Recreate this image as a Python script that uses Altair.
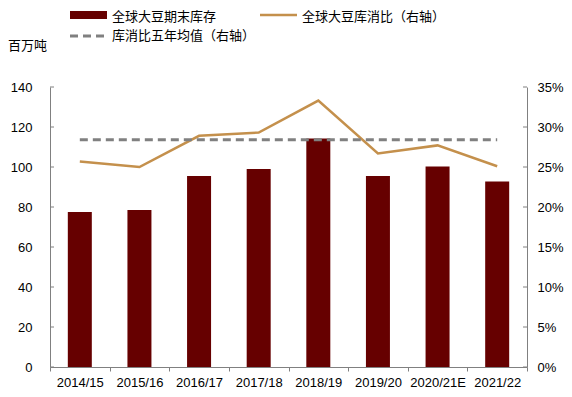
import altair as alt
import pandas as pd

years = ["2014/15", "2015/16", "2016/17", "2017/18", "2018/19", "2019/20", "2020/21E", "2021/22"]
stocks = [77.5, 78.5, 95.5, 99.0, 114.2, 95.5, 100.2, 92.7]          # 百万吨
ratio = [0.257, 0.250, 0.289, 0.293, 0.333, 0.267, 0.277, 0.251]     # 库消比
avg5 = [0.284] * len(years)                                          # 五年均值
left_ticks = [0, 20, 40, 60, 80, 100, 120, 140]
right_ticks = [0, 0.05, 0.10, 0.15, 0.20, 0.25, 0.30, 0.35]

df = pd.DataFrame({"year": years, "stocks": stocks, "ratio": ratio, "avg": avg5})
lt = pd.DataFrame({"v": left_ticks})
rt = pd.DataFrame({"v": right_ticks})
one = pd.DataFrame({"a": [0]})

LAT = "Liberation Sans"
CJK = "Noto Sans CJK SC"
BAR = "#660000"
LINE = "#C4904C"
DASH = "#808080"
AX = "#808080"
W = 477

xenc = alt.X("year:N", sort=years, title=None,
             scale=alt.Scale(paddingInner=0, paddingOuter=0),
             axis=alt.Axis(labelAngle=0, labelFont=LAT, labelFontSize=13, labelColor="#000",
                           domainColor=AX, tickColor=AX, tickBand="extent", tickSize=4,
                           labelPadding=5, grid=False, labelOverlap=False))

lscale = alt.Scale(domain=[0, 140], nice=False, zero=True)
rscale = alt.Scale(domain=[0, 0.35], nice=False, zero=True)

laxis = alt.Axis(values=left_ticks, orient="left", ticks=False, labelPadding=18,
                 labelFont=LAT, labelFontSize=13, labelColor="#000", labelOverlap=False,
                 labelFlush=False, domainColor=AX, grid=False, title=None)
raxis = alt.Axis(values=right_ticks, orient="right", format=".0%", ticks=False,
                 labelPadding=10, labelFont=LAT, labelFontSize=13, labelColor="#000",
                 labelOverlap=False, labelFlush=False, domainColor=AX, grid=False, title=None)

bars = alt.Chart(df).mark_bar(size=24, color=BAR).encode(
    x=xenc, y=alt.Y("stocks:Q", scale=lscale, title=None, axis=laxis))
lticks = alt.Chart(lt).mark_rule(color=AX, strokeWidth=1).encode(
    y=alt.Y("v:Q", scale=lscale, title=None, axis=laxis), x=alt.value(0), x2=alt.value(4))
left = alt.layer(bars, lticks)

line = alt.Chart(df).mark_line(color=LINE, strokeWidth=2.5).encode(
    x=alt.X("year:N", sort=years),
    y=alt.Y("ratio:Q", scale=rscale, title=None, axis=raxis))
dashed = alt.Chart(df).mark_line(color=DASH, strokeWidth=3, strokeDash=[8, 5]).encode(
    x=alt.X("year:N", sort=years),
    y=alt.Y("avg:Q", scale=rscale, title=None, axis=raxis))
rticks = alt.Chart(rt).mark_rule(color=AX, strokeWidth=1).encode(
    y=alt.Y("v:Q", scale=rscale, title=None, axis=raxis), x=alt.value(W - 4), x2=alt.value(W))
right = alt.layer(line, dashed, rticks)

# legend & unit label
base = alt.Chart(one)
txt = dict(align="left", baseline="middle", font=CJK, fontSize=13, color="#000")
txt_top = dict(align="left", baseline="top", font=CJK, fontSize=13, color="#000")
leg = alt.layer(
    base.mark_rule(color=BAR, strokeWidth=8).encode(x=alt.value(20), x2=alt.value(57), y=alt.value(-72)),
    base.mark_text(**txt_top).encode(x=alt.value(62), y=alt.value(-76), text=alt.value("全球大豆期末库存")),
    base.mark_rule(color=LINE, strokeWidth=2.5).encode(x=alt.value(210), x2=alt.value(247), y=alt.value(-72)),
    base.mark_text(**txt_top).encode(x=alt.value(252), y=alt.value(-76), text=alt.value("全球大豆库消比（右轴）")),
    base.mark_rule(color=DASH, strokeWidth=3, strokeDash=[8, 5]).encode(x=alt.value(20), x2=alt.value(57), y=alt.value(-51)),
    base.mark_text(**txt).encode(x=alt.value(62), y=alt.value(-51), text=alt.value("库消比五年均值（右轴）")),
    base.mark_text(**txt).encode(x=alt.value(-42), y=alt.value(-41), text=alt.value("百万吨")),
)

chart = alt.layer(left, right, leg).resolve_scale(y="independent").properties(
    width=W, height=280,
    autosize=alt.AutoSizeParams(type="none"),
    padding={"left": 42, "top": 79, "right": 37, "bottom": 26},
).configure_view(stroke=None)

chart.save("out.html", embed_options={"renderer": "svg", "actions": False})
